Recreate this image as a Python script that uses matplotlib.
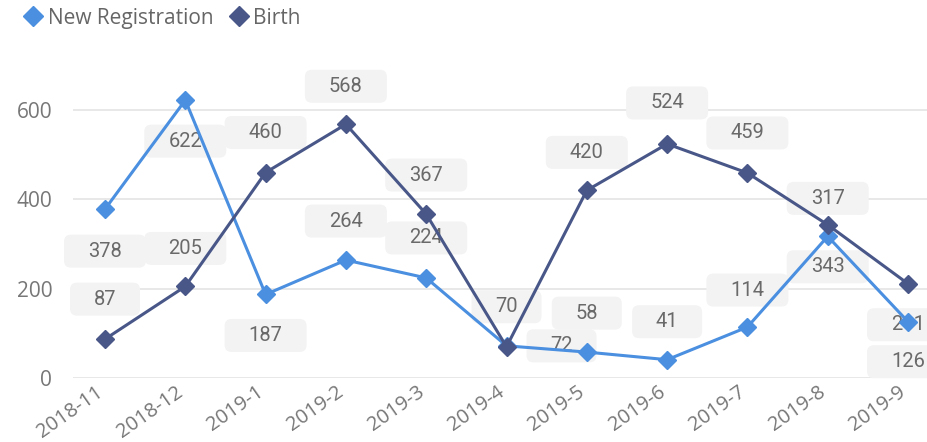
import matplotlib
matplotlib.use("Agg")
import matplotlib.pyplot as plt
from matplotlib.patches import FancyBboxPatch
from matplotlib.lines import Line2D
import matplotlib.transforms as mtransforms

months = ["2018-11", "2018-12", "2019-1", "2019-2", "2019-3", "2019-4",
          "2019-5", "2019-6", "2019-7", "2019-8", "2019-9"]
new_registration = [378, 622, 187, 264, 224, 72, 58, 41, 114, 317, 126]
birth = [87, 205, 460, 568, 367, 70, 420, 524, 459, 343, 211]
y_ticks = [0, 200, 400, 600]

# label offsets in pixels (dx, dy) relative to the point
reg_offsets = [(0, -42), (0, -41), (0, -41), (0, 39), (0, 40), (55, 0),
               (0, 39), (0, 38), (0, 37), (0, 38), (0, -40)]
birth_offsets = [(0, 40), (0, 38), (0, 40), (0, 38), (0, 39), (0, 40),
                 (0, 38), (0, 41), (0, 40), (0, -42), (0, -41)]

C_REG = "#4A8FE0"
C_BIRTH = "#485788"
DPI = 100

fig = plt.figure(figsize=(9.28, 4.42), dpi=DPI)
ax = fig.add_axes([73 / 928, (442 - 378) / 442, 1 - 73 / 928, (378 - 65.3) / 442])
x = list(range(len(months)))

ax.plot(x, new_registration, color=C_REG, lw=2.2, marker="D", ms=9, zorder=5)
ax.plot(x, birth, color=C_BIRTH, lw=2.2, marker="D", ms=9, zorder=5)

ax.set_xlim(-0.3985, 10.249)
ax.set_ylim(0, 700)
ax.set_yticks(y_ticks)
ax.set_xticks(x)
ax.set_xticklabels(months, rotation=35, ha="right", va="center",
                   rotation_mode="anchor",
                   family="Open Sans", fontsize=14.5, color="#777777")
ax.set_yticklabels([str(v) for v in y_ticks], family="Open Sans", fontsize=15,
                   color="#777777")
ax.tick_params(axis="both", length=0)
ax.tick_params(axis="y", pad=15)
ax.tick_params(axis="x", pad=9)
for s in ax.spines.values():
    s.set_visible(False)
ax.yaxis.grid(True, color="#e6e6e6", lw=1.3)
ax.set_axisbelow(True)
shift = mtransforms.ScaledTranslation(-4 / DPI, 0, fig.dpi_scale_trans)
for lab in ax.get_xticklabels():
    lab.set_transform(lab.get_transform() + shift)


def add_label(xi, yi, text, off):
    dx, dy = off
    trans = fig.dpi_scale_trans + mtransforms.ScaledTranslation(xi, yi, ax.transData)
    w = (46 + 12 * len(text)) / DPI
    h = 33 / DPI
    cx, cy = dx / DPI, dy / DPI
    box = FancyBboxPatch((cx - w / 2, cy - h / 2), w, h,
                         boxstyle="round,pad=0,rounding_size=0.07",
                         transform=trans, facecolor="#f3f3f3", edgecolor="none",
                         zorder=3, clip_on=False)
    ax.add_patch(box)
    ax.text(cx, cy, text, transform=trans, ha="center", va="center",
            fontsize=14.5, family="Roboto", color="#6a6a6a", zorder=4)


for xi, v, off in zip(x, new_registration, reg_offsets):
    add_label(xi, v, str(v), off)
for xi, v, off in zip(x, birth, birth_offsets):
    add_label(xi, v, str(v), off)

handles = [Line2D([], [], color=C_REG, marker="D", ls="none", ms=10),
           Line2D([], [], color=C_BIRTH, marker="D", ls="none", ms=10)]
leg = fig.legend(handles, ["New Registration", "Birth"], loc="upper left",
                 bbox_to_anchor=(0.0, 1.025), ncol=2, frameon=False,
                 handletextpad=0.0, columnspacing=0.5, handlelength=1.4,
                 prop={"family": "Open Sans", "size": 15})
for t in leg.get_texts():
    t.set_color("#666666")

fig.savefig("out.png", dpi=DPI)
